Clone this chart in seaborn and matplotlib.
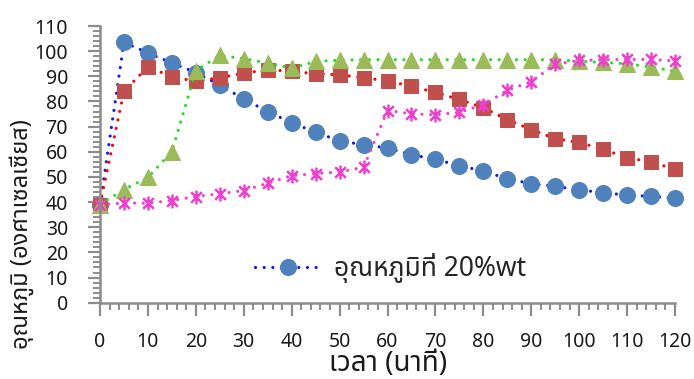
import numpy as np
import pandas as pd
import matplotlib
matplotlib.use("Agg")
import matplotlib.pyplot as plt
from matplotlib import font_manager
from matplotlib.path import Path
import seaborn as sns
from fontTools.ttLib import TTFont

# Data (temperature vs. time)
time_min = [0, 5, 10, 15, 20, 25, 30, 35, 40, 45, 50, 55, 60,
            65, 70, 75, 80, 85, 90, 95, 100, 105, 110, 115, 120]
temp_20wt = [39, 103.5, 99.3, 95.3, 91.5, 86.5, 81, 76, 71.5, 67.8, 64.3, 62.8, 61.5,
             58.8, 57, 54.5, 52.3, 49.3, 47.3, 46.3, 44.8, 43.8, 42.7, 42.3, 41.5]
temp_red = [39, 84, 93.8, 89.8, 88, 89.5, 91.2, 92.6, 92, 91, 90.6, 89.4, 88.2,
            86, 83.6, 80.8, 77.5, 72.8, 68.8, 65.2, 63.7, 61, 57.6, 56, 53]
temp_green = [39, 45, 49.8, 60, 92.3, 98.3, 97, 95.3, 93.2, 95.9, 96.4, 96.6, 96.6,
              96.6, 96.6, 96.6, 96.6, 96.6, 96.6, 96.6, 96, 95.5, 95, 93.7, 92]
temp_pink = [39, 39.6, 39.6, 40.6, 42.2, 43.3, 44.6, 47.5, 50.5, 51.3, 52, 53.8, 76.4,
             75.1, 74.7, 75.7, 78.7, 84.4, 87.9, 94.8, 96.3, 96.6, 96.7, 96.7, 96.1]

legend_label = "อุณหภูมิที่ 20%wt"
x_label = "เวลา (นาที)"
y_label = "อุณหภูมิ (องศาเซลเซียส)"


def find_thai_font():
    preferred = ["Noto Sans Thai", "Noto Sans Thai Looped", "Leelawadee UI", "Tahoma",
                 "Loma", "Garuda", "Sarabun", "Waree", "Tlwg Typo", "Norasi"]
    names = {f.name for f in font_manager.fontManager.ttflist}
    for p in preferred:
        if p in names:
            return p
    for f in font_manager.fontManager.ttflist:
        try:
            cmap = TTFont(f.fname, fontNumber=0, lazy=True).getBestCmap()
        except Exception:
            continue
        if cmap and 0x0E2D in cmap and 0x0E38 in cmap:
            return f.name
    return "DejaVu Sans"


sns.set_style("ticks")
thai = find_thai_font()
plt.rcParams["font.family"] = [thai, "DejaVu Sans"]

fig = plt.figure(figsize=(6.94, 3.79), dpi=100)
ax = fig.add_axes([100 / 694, 1 - 302.7 / 379, 575 / 694, 276.7 / 379])

# Excel-like "star" marker: an X with a vertical bar
star = Path([(-1, -1), (1, 1), (-1, 1), (1, -1), (0, -1.3), (0, 1.3)],
            [Path.MOVETO, Path.LINETO, Path.MOVETO, Path.LINETO, Path.MOVETO, Path.LINETO])

dots = (0, (0.01, 2.7))
common = dict(linestyle=dots, linewidth=2.3, dash_capstyle="round", clip_on=False)

sns.lineplot(x=time_min, y=temp_20wt, ax=ax, color="#1414ff", marker="o", markersize=11.5,
             markerfacecolor="#4f81bd", markeredgecolor="#4f81bd", label=legend_label, **common)
sns.lineplot(x=time_min, y=temp_red, ax=ax, color="#ff0000", marker="s", markersize=10,
             markerfacecolor="#c0504d", markeredgecolor="#c0504d", legend=False, **common)
sns.lineplot(x=time_min, y=temp_green, ax=ax, color="#22dd22", marker="^", markersize=11,
             markerfacecolor="#9bbb59", markeredgecolor="#9bbb59", legend=False, **common)
sns.lineplot(x=time_min, y=temp_pink, ax=ax, color="#ee44cc", marker=star, markersize=10,
             markerfacecolor="none", markeredgecolor="#ee3fcf", markeredgewidth=1.8,
             legend=False, **common)

ax.set_xlim(0, 120)
ax.set_ylim(0, 110)
ax.set_xticks(np.arange(0, 121, 10))
ax.set_yticks(np.arange(0, 111, 10))
ax.set_xticks(np.arange(0, 121, 2), minor=True)
ax.set_yticks(np.arange(0, 111, 2), minor=True)

sns.despine(ax=ax)
grey = "#8c8c8c"
for side in ["left", "bottom"]:
    ax.spines[side].set_color(grey)
    ax.spines[side].set_linewidth(1.8)
ax.tick_params(which="major", direction="out", length=9, width=1.6, color=grey,
               labelsize=14, labelcolor="#1a1a1a")
ax.tick_params(which="minor", direction="out", length=5, width=1.4, color=grey)
ax.tick_params(axis="x", which="major", pad=12)
ax.tick_params(axis="y", which="major", pad=14)
ax.set_xlabel("")
ax.set_ylabel("")

fig.text(388 / 694, 1 - 364 / 379, x_label, ha="center", va="center",
         fontsize=20, color="#1a1a1a")
fig.text(22 / 694, 1 - 234 / 379, y_label, ha="center", va="center", rotation=90,
         fontsize=17, color="#1a1a1a")

ax.legend(loc="center", bbox_to_anchor=(0.505, 0.125), frameon=False, fontsize=19,
          handlelength=2.5, handletextpad=0.5)

fig.savefig("out.png", dpi=100)
